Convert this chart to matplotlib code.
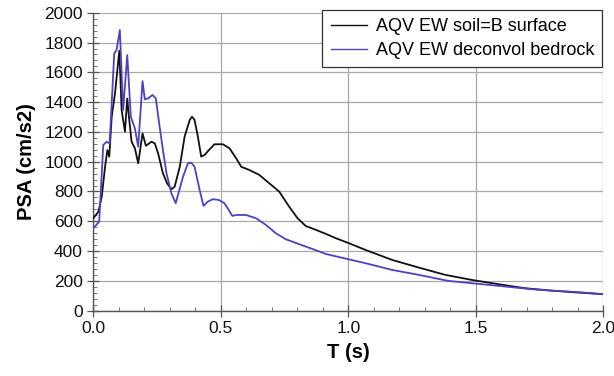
import matplotlib
matplotlib.use("Agg")
import matplotlib.pyplot as plt
from matplotlib.ticker import MultipleLocator

plt.rcParams['font.family'] = ['Liberation Sans', 'DejaVu Sans']

# Soil (surface) series
t_soil = [0.0, 0.02, 0.033, 0.046, 0.055, 0.0625, 0.072, 0.085, 0.102, 0.111, 0.124, 0.133,
          0.139, 0.15, 0.163, 0.176, 0.193, 0.206, 0.228, 0.241, 0.254, 0.273, 0.289, 0.306,
          0.319, 0.339, 0.358, 0.378, 0.387, 0.397, 0.41, 0.423, 0.436, 0.456, 0.475, 0.508,
          0.534, 0.56, 0.58, 0.612, 0.651, 0.69, 0.729, 0.768, 0.801, 0.833, 0.873, 0.912,
          0.951, 1.003, 1.068, 1.172, 1.276, 1.38, 1.484, 1.589, 1.693, 1.797, 1.901, 2.0]
psa_soil = [620, 664, 765, 966, 1078, 1033, 1300, 1459, 1745, 1347, 1201, 1425,
            1313, 1134, 1090, 989, 1190, 1107, 1134, 1123, 1056, 922, 855, 815,
            832, 966, 1168, 1280, 1302, 1280, 1168, 1034, 1045, 1083, 1117, 1117,
            1090, 1023, 966, 944, 911, 855, 799, 698, 620, 568, 542, 515,
            486, 452, 407, 340, 289, 240, 206, 177, 150, 134, 121, 110]

# Bedrock (deconvolved) series
t_rock = [0.0, 0.023, 0.039, 0.052, 0.064, 0.082, 0.091, 0.104, 0.117, 0.133, 0.147, 0.163,
          0.176, 0.193, 0.202, 0.215, 0.232, 0.245, 0.26, 0.273, 0.287, 0.306, 0.323, 0.352,
          0.371, 0.384, 0.397, 0.417, 0.432, 0.449, 0.469, 0.492, 0.514, 0.527, 0.545, 0.56,
          0.599, 0.638, 0.677, 0.716, 0.755, 0.807, 0.859, 0.912, 0.977, 1.068, 1.172, 1.276,
          1.393, 1.484, 1.589, 1.719, 1.797, 1.9, 2.0]
psa_rock = [553, 597, 1112, 1134, 1123, 1727, 1750, 1884, 1347, 1716, 1302, 1224,
            1101, 1541, 1419, 1425, 1448, 1425, 1235, 1078, 922, 788, 721, 900,
            989, 993, 966, 810, 703, 732, 748, 743, 721, 687, 636, 642,
            642, 620, 575, 519, 479, 446, 414, 380, 354, 318, 273, 240,
            199, 184, 166, 144, 134, 124, 110]

labels = ["AQV EW soil=B surface", "AQV EW deconvol bedrock"]

fig = plt.figure(figsize=(6.14, 3.76), dpi=100)
ax = fig.add_axes([0.152, 0.174, 0.8306, 0.792])

ax.plot(t_soil, psa_soil, color='#111111', lw=1.3, label=labels[0], zorder=3)
ax.plot(t_rock, psa_rock, color='#4B42C4', lw=1.3, label=labels[1], zorder=3)

ax.set_xlim(0, 2.0)
ax.set_ylim(0, 2000)
ax.xaxis.set_major_locator(MultipleLocator(0.5))
ax.xaxis.set_minor_locator(MultipleLocator(0.1))
ax.yaxis.set_major_locator(MultipleLocator(200))
ax.yaxis.set_minor_locator(MultipleLocator(40))
ax.xaxis.set_major_formatter(matplotlib.ticker.FormatStrFormatter('%.1f'))

ax.grid(True, which='major', color='#a8a8a8', lw=0.9)
ax.set_axisbelow(True)
for s in ['top', 'right']:
    ax.spines[s].set_visible(False)
for s in ['left', 'bottom']:
    ax.spines[s].set_color('#555555')
    ax.spines[s].set_linewidth(1.0)

ax.tick_params(which='major', direction='inout', length=8, width=0.9, colors='#555555',
               labelsize=12.5, labelcolor='#111111')
ax.tick_params(which='minor', direction='in', length=3, width=0.7, colors='#777777')

ax.set_xlabel('T (s)', fontsize=14.5, fontweight='bold', labelpad=5)
ax.set_ylabel('PSA (cm/s2)', fontsize=14.5, fontweight='bold', labelpad=6)

leg = ax.legend(loc='upper right', fontsize=13, frameon=True, fancybox=False,
                edgecolor='#333333', framealpha=1, borderaxespad=0.0,
                handlelength=2.0, handletextpad=0.5, borderpad=0.45, labelspacing=0.4,
                bbox_to_anchor=(0.998, 1.01))
leg.get_frame().set_linewidth(0.9)
for line in leg.get_lines():
    line.set_linewidth(1.0)

fig.savefig('out.png', dpi=100)
